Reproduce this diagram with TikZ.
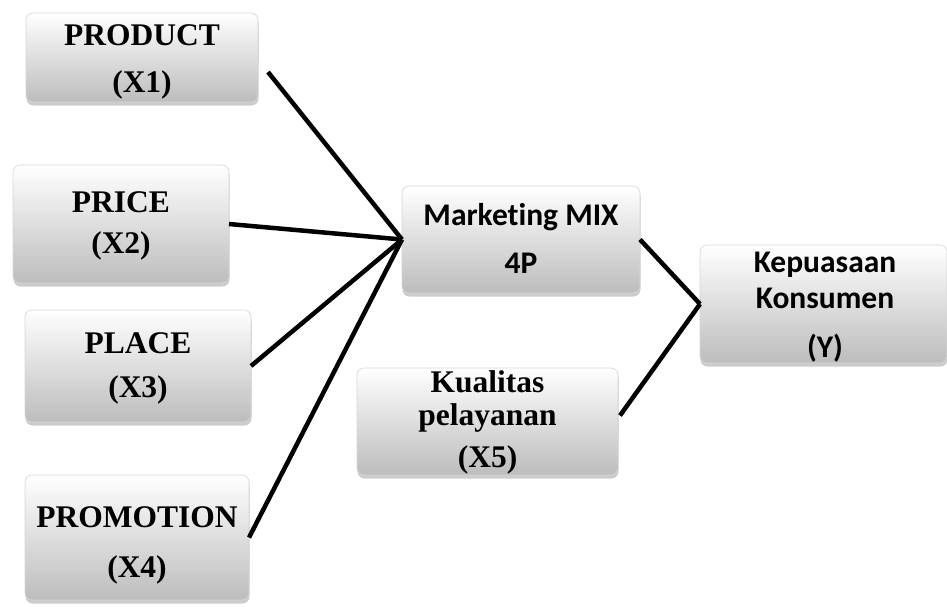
\documentclass[tikz,border=0pt]{standalone}
\usepackage{fontspec}
\newfontfamily\tnrfont{Liberation Serif}
\newfontfamily\cbrfont[RawFeature=-liga]{Carlito}
\usetikzlibrary{shadows}
\begin{document}
\begin{tikzpicture}[x=1pt,y=-1pt,
  box/.style={rectangle, rounded corners=7pt, draw=black!16, line width=0.6pt,
    top color=white, middle color=black!5, bottom color=black!26, inner sep=0pt, outer sep=0pt,
    drop shadow={shadow xshift=0.5pt, shadow yshift=-3.5pt, opacity=0.4, fill=black!50}},
  serif/.style={anchor=base, inner sep=0pt, font=\tnrfont\bfseries\fontsize{31.5}{31.5}\selectfont},
  sans/.style={anchor=base, inner sep=0pt, font=\cbrfont\bfseries\fontsize{31.5}{31.5}\selectfont},
  link/.style={line width=4.5pt, black}]
\useasboundingbox (0,0) rectangle (947,606);
% boxes
\node[box, minimum width=232pt, minimum height=89pt]  (prod)  at (142,57.5) {};
\node[box, minimum width=216pt, minimum height=118pt] (price) at (121,224) {};
\node[box, minimum width=226pt, minimum height=112pt] (place) at (138,366) {};
\node[box, minimum width=224pt, minimum height=125pt] (promo) at (137,537.5) {};
\node[box, minimum width=238pt, minimum height=107pt] (mkt)   at (521,239.5) {};
\node[box, minimum width=261pt, minimum height=107pt] (kual)  at (487.5,421.5) {};
\node[box, minimum width=247pt, minimum height=118pt] (kep)   at (823.5,304) {};
% texts
\node[serif] (prodA)  at (142,45)  {PRODUCT};
\node[serif] (prodB)  at (142,92)  {(X1)};
\node[serif] (priceA) at (121,212) {PRICE};
\node[serif] (priceB) at (121,253) {(X2)};
\node[serif] (placeA) at (138,353) {PLACE};
\node[serif] (placeB) at (138,397) {(X3)};
\node[serif] (promoA) at (137,527) {PROMOTION};
\node[serif] (promoB) at (137,577) {(X4)};
\node[sans]  (mktA)   at (521,225) {Marketing MIX};
\node[sans]  (mktB)   at (521,273) {4P};
\node[serif] (kualA)  at (487.5,392) {Kualitas};
\node[serif] (kualB)  at (487.5,425) {pelayanan};
\node[serif] (kualC)  at (487.5,467) {(X5)};
\node[sans]  (kepA)   at (825,272) {Kepuasaan};
\node[sans]  (kepB)   at (825,308) {Konsumen};
\node[sans]  (kepC)   at (825,357) {(Y)};
% connectors
\coordinate (prodOut) at ([xshift=10pt,yshift=-14.5pt]prod.east);
\coordinate (kualOut) at ([xshift=2pt,yshift=6pt]kual.east);
\draw[link] (prodOut) -- (mkt.west);
\draw[link] (price.east) -- (mkt.west);
\draw[link] (place.east) -- (mkt.west);
\draw[link] (promo.east) -- (mkt.west);
\draw[link] (mkt.east) -- (kep.west);
\draw[link] (kualOut) -- (kep.west);
\end{tikzpicture}
\end{document}
